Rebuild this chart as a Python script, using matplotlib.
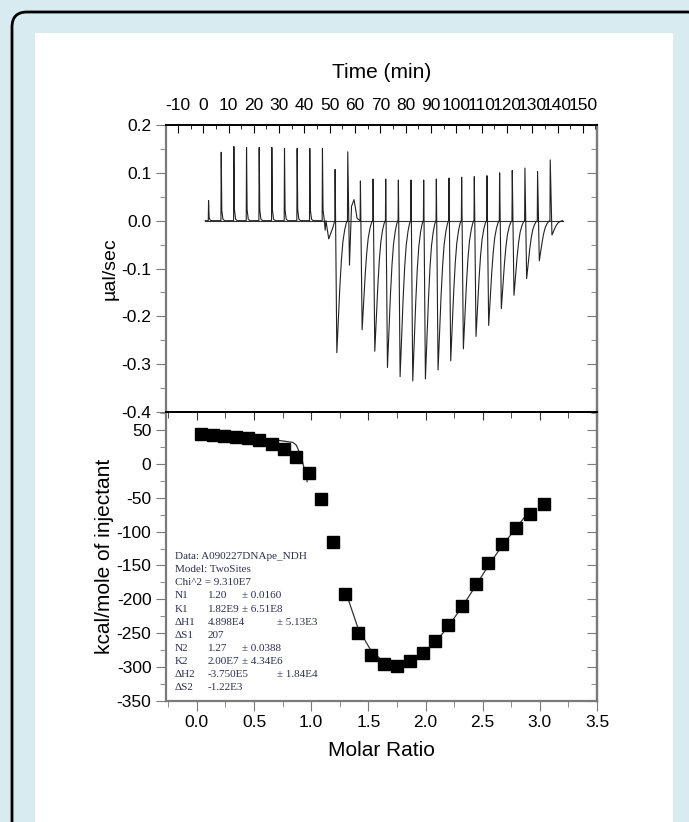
import numpy as np
import matplotlib.pyplot as plt
from matplotlib.patches import FancyBboxPatch, Rectangle
from matplotlib.ticker import MultipleLocator, FormatStrFormatter

plt.rcParams['font.family'] = ['Liberation Sans', 'DejaVu Sans']
plt.rcParams['axes.unicode_minus'] = False

# ---- raw thermogram (top panel) ----
inj_t = [2, 7, 12, 17, 22, 27, 32, 37, 42, 47, 52, 57, 62, 67, 72, 77, 82, 87,
         92, 97, 102, 107, 112, 117, 122, 127, 132, 137]
inj_up = [0.042, 0.143, 0.155, 0.153, 0.153, 0.153, 0.151, 0.151, 0.151, 0.151,
          0.107, 0.144, 0.083, 0.087, 0.087, 0.085, 0.085, 0.085, 0.087, 0.089,
          0.091, 0.092, 0.094, 0.100, 0.105, 0.110, 0.103, 0.127]
inj_down = [0, 0, 0, 0, 0, 0, 0, 0, 0, 0,
            0.276, 0.093, 0.228, 0.273, 0.307, 0.326, 0.335, 0.331, 0.312, 0.293,
            0.268, 0.242, 0.219, 0.184, 0.156, 0.121, 0.084, 0.030]
# small baseline features between injections
extra_t = [48.2, 49.6, 51.2, 58.6, 59.6, 60.8]
extra_v = [-0.020, -0.038, -0.015, 0.030, 0.044, 0.005]
no_tail = [57]
baseline_t = [0.8, 142]

# ---- integrated heats (bottom panel) ----
ratio = [0.033, 0.138, 0.237, 0.342, 0.447, 0.543, 0.654, 0.762, 0.867, 0.981,
         1.086, 1.19, 1.30, 1.41, 1.52, 1.635, 1.75, 1.864, 1.978, 2.08,
         2.20, 2.32, 2.44, 2.55, 2.67, 2.79, 2.91, 3.04]
heat = [44, 43, 42, 40, 38, 35, 30, 23, 10.6, -12.5,
        -52, -116, -192, -250, -282, -296, -299, -292, -280, -261,
        -238, -210, -178, -147, -118, -94, -74, -59]
fit1_x = [0.033, 0.2, 0.4, 0.55, 0.67, 0.76, 0.84, 0.87, 0.89, 0.92, 0.95, 0.965]
fit1_y = [45, 44, 42, 39, 36, 34, 32, 28, 20, 6, -14, -26]
fit2_x = [1.31, 1.41, 1.52, 1.63, 1.75, 1.86, 1.98, 2.08, 2.20, 2.32, 2.44,
          2.55, 2.67, 2.79, 2.92]
fit2_y = [-193, -243, -275, -292, -298, -293, -281, -265, -240, -211, -180,
          -150, -121, -95, -67]

fit_labels = ['Data: A090227DNApe_NDH', 'Model: TwoSites', 'Chi^2 = 9.310E7',
              'N1', 'K1', '\u0394H1', '\u0394S1', 'N2', 'K2', '\u0394H2', '\u0394S2']
fit_values = ['', '', '', '1.20', '1.82E9', '4.898E4', '207', '1.27', '2.00E7',
              '-3.750E5', '-1.22E3']
fit_errors = ['', '', '', '\u00b1 0.0160', '\u00b1 6.51E8', '\u00b1 5.13E3', '',
              '\u00b1 0.0388', '\u00b1 4.34E6', '\u00b1 1.84E4', '']

# build trace vertices (spike, dip, slow return to baseline)
pts = [(baseline_t[0], 0.0)]
rec = [(1.4, 0.75), (2.0, 0.5), (2.6, 0.3), (3.2, 0.16), (3.9, 0.07),
       (4.5, 0.02), (4.95, 0.0)]
for t, up, dn in zip(inj_t, inj_up, inj_down):
    pts.append((t, 0.0))
    pts.append((t + 0.12, up))
    if dn == 0:
        pts += [(t + 0.35, 0.15 * up), (t + 0.8, 0.02 * up), (t + 1.5, 0.0)]
    else:
        pts.append((t + 0.8, -dn))
        if t not in no_tail:
            pts += [(t + dt, -f * dn) for dt, f in rec]
pts += list(zip(extra_t, extra_v))
pts.append((baseline_t[1], 0.0))
pts.sort(key=lambda p: p[0])
tt = [p[0] for p in pts]
vv = [p[1] for p in pts]

W, H = 689, 822
fig = plt.figure(figsize=(W / 100, H / 100), dpi=100)
fig.patch.set_facecolor('#d7ebf0')
fig.add_artist(FancyBboxPatch((0.12, -1.0), 6.9, 9.1, boxstyle='round,pad=0,rounding_size=0.15',
                              transform=fig.dpi_scale_trans, facecolor='#d7ebf0',
                              edgecolor='black', lw=2, zorder=0))
fig.add_artist(Rectangle((0.35, -0.1), 6.38, 7.99, transform=fig.dpi_scale_trans,
                         facecolor='white', edgecolor='none', zorder=0))

gray = '#7a7a7a'
ax1 = fig.add_axes([166 / W, 1 - 412 / H, 431 / W, 287 / H])
ax2 = fig.add_axes([166 / W, 1 - 700.7 / H, 431 / W, 288.7 / H])

# top panel
ax1.plot(baseline_t, [0, 0], color='#333333', lw=0.8)
ax1.plot(tt, vv, color='#222222', lw=0.8)
ax1.set_xlim(-14.7, 155.6)
ax1.set_ylim(-0.4, 0.2)
ax1.xaxis.tick_top()
ax1.xaxis.set_label_position('top')
ax1.xaxis.set_major_locator(MultipleLocator(10))
ax1.xaxis.set_minor_locator(MultipleLocator(5))
ax1.yaxis.set_major_locator(MultipleLocator(0.1))
ax1.yaxis.set_minor_locator(MultipleLocator(0.05))
ax1.yaxis.set_major_formatter(FormatStrFormatter('%.1f'))
ax1.tick_params(axis='x', which='both', direction='in', top=True, bottom=False,
                labeltop=True, labelbottom=False, labelsize=12.5, pad=9)
ax1.tick_params(axis='x', which='major', length=6)
ax1.tick_params(axis='x', which='minor', length=3)
ax1.tick_params(axis='y', which='both', direction='out', left=True, right=False,
                labelsize=12.5, color=gray)
ax1.tick_params(axis='y', which='major', length=7)
ax1.tick_params(axis='y', which='minor', length=4)
ax1.set_xlabel('Time (min)', fontsize=15, labelpad=14)
ax1.set_ylabel('\u00b5al/sec', fontsize=14, labelpad=2)
r1 = ax1.secondary_yaxis('right')
r1.yaxis.set_major_locator(MultipleLocator(0.1))
r1.yaxis.set_minor_locator(MultipleLocator(0.05))
r1.tick_params(which='both', direction='in', labelright=False, color=gray)
r1.tick_params(which='major', length=7)
r1.tick_params(which='minor', length=4)
r1.spines['right'].set_color(gray)
r1.spines['right'].set_linewidth(1.6)

# bottom panel
ax2.plot(fit1_x, fit1_y, color='#333333', lw=0.9)
ax2.plot(fit2_x, fit2_y, color='#333333', lw=0.9)
ax2.plot(ratio, heat, 's', color='black', ms=8, zorder=3)
ax2.set_xlim(-0.27, 3.5)
ax2.set_ylim(-350, 77)
ax2.xaxis.set_major_locator(MultipleLocator(0.5))
ax2.xaxis.set_minor_locator(MultipleLocator(0.25))
ax2.xaxis.set_major_formatter(FormatStrFormatter('%.1f'))
ax2.yaxis.set_major_locator(MultipleLocator(50))
ax2.yaxis.set_minor_locator(MultipleLocator(25))
ax2.tick_params(axis='both', which='both', direction='out', labelsize=12.5, color=gray)
ax2.tick_params(which='major', length=7)
ax2.tick_params(which='minor', length=4)
ax2.set_xlabel('Molar Ratio', fontsize=15, labelpad=8)
ax2.set_ylabel('kcal/mole of injectant', fontsize=15, labelpad=2)
r2 = ax2.secondary_yaxis('right')
r2.yaxis.set_major_locator(MultipleLocator(50))
r2.yaxis.set_minor_locator(MultipleLocator(25))
r2.tick_params(which='both', direction='in', labelright=False, color=gray)
r2.tick_params(which='major', length=7)
r2.tick_params(which='minor', length=4)
r2.spines['right'].set_color(gray)
r2.spines['right'].set_linewidth(1.6)
t2 = ax2.secondary_xaxis('top')
t2.xaxis.set_major_locator(MultipleLocator(0.5))
t2.xaxis.set_minor_locator(MultipleLocator(0.25))
t2.tick_params(which='both', direction='in', labeltop=False, color='#333333')
t2.tick_params(which='major', length=6)
t2.tick_params(which='minor', length=4)
t2.spines['top'].set_linewidth(1.4)

for ax in (ax1, ax2):
    for side in ('left', 'right', 'bottom'):
        ax.spines[side].set_color(gray)
        ax.spines[side].set_linewidth(1.6)
    ax.spines['top'].set_color('black')
    ax.spines['top'].set_linewidth(1.4)
    ax.patch.set_alpha(0)
ax1.spines['bottom'].set_color('black')
ax1.spines['bottom'].set_linewidth(1.4)

# fit parameter block
y0, dy = 0.499, 0.0454
for i, (lab, val, err) in enumerate(zip(fit_labels, fit_values, fit_errors)):
    y = y0 - i * dy
    kw = dict(transform=ax2.transAxes, fontsize=8, va='center',
              family=['Liberation Serif', 'DejaVu Serif'], color='#2e2e50')
    ax2.text(0.021, y, lab, **kw)
    if val:
        ax2.text(0.0974, y, val, **kw)
    if err:
        ex = 0.2575 if lab.startswith('\u0394H') else 0.176
        ax2.text(ex, y, err, **kw)

fig.savefig('out.png', dpi=100, facecolor=fig.get_facecolor())
